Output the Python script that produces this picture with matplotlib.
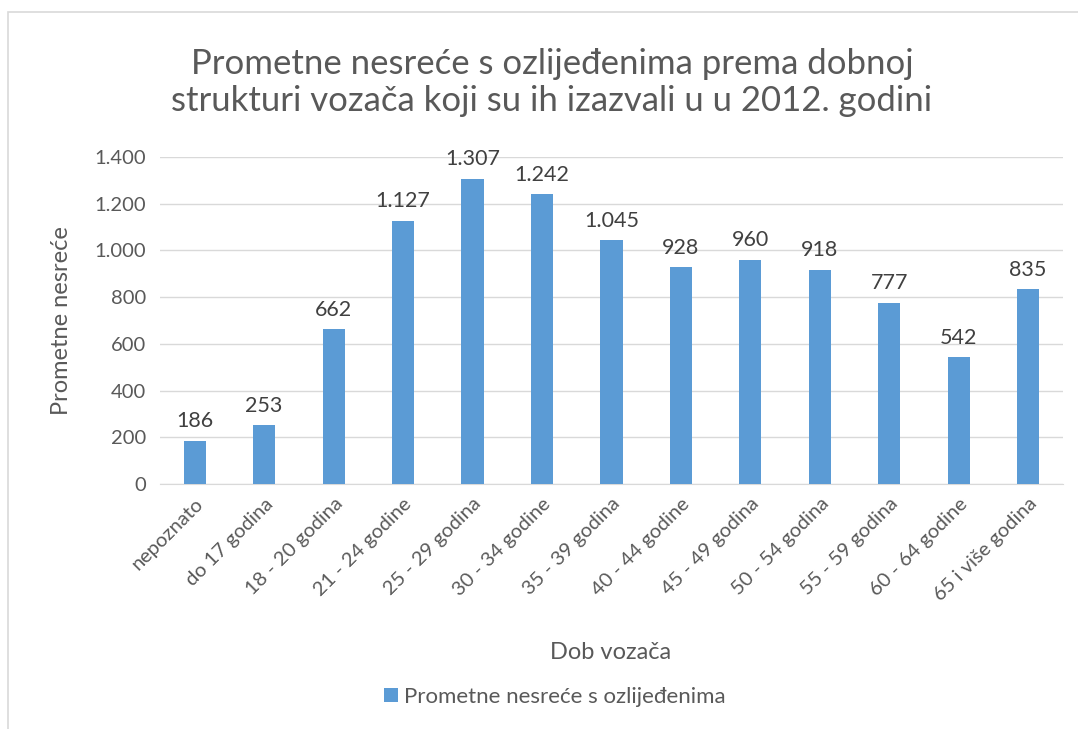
import numpy as np
import matplotlib.pyplot as plt
from matplotlib.patches import Rectangle

categories = ["nepoznato", "do 17 godina", "18 - 20 godina", "21 - 24 godine",
              "25 - 29 godina", "30 - 34 godine", "35 - 39 godina", "40 - 44 godine",
              "45 - 49 godina", "50 - 54 godina", "55 - 59 godina", "60 - 64 godine",
              "65 i više godina"]
values = [186, 253, 662, 1127, 1307, 1242, 1045, 928, 960, 918, 777, 542, 835]
yticks = [0, 200, 400, 600, 800, 1000, 1200, 1400]

plt.rcParams['font.family'] = ['Lato', 'DejaVu Sans']

bar_color = '#5b9bd5'
text_color = '#595959'

def fmt(v):
    return f"{v:,}".replace(",", ".")

fig = plt.figure(figsize=(10.78, 7.29), dpi=100)
fig.patch.set_facecolor('white')
ax = fig.add_axes([0.1484, 0.336, 0.986 - 0.1484, 0.7846 - 0.336])

x = np.arange(len(categories))
ax.bar(x, values, width=0.32, color=bar_color, zorder=3,
       label="Prometne nesreće s ozlijeđenima")

for xi, v in zip(x, values):
    ax.text(xi, v + 40, fmt(v), ha='center', va='bottom', fontsize=15.5, color='#404040')

ax.set_xlim(-0.5, len(categories) - 0.5)
ax.set_ylim(0, 1400)
ax.set_yticks(yticks)
ax.set_yticklabels([fmt(t) for t in yticks], fontsize=14.5, color=text_color)
ax.set_xticks(x)
ax.set_xticklabels(categories, rotation=45, ha='right', rotation_mode='anchor',
                   fontsize=14.5, color=text_color)
ax.tick_params(axis='both', length=0, pad=10)
ax.tick_params(axis='x', pad=8)

ax.grid(axis='y', color='#d9d9d9', linewidth=1, zorder=0)
for s in ['top', 'right', 'left']:
    ax.spines[s].set_visible(False)
ax.spines['bottom'].set_color('#d9d9d9')

ax.set_ylabel("Prometne nesreće", fontsize=17, color=text_color, labelpad=16)
fig.text(0.566, 0.105, "Dob vozača", ha='center', va='center', fontsize=17, color=text_color)

fig.text(0.512, 0.887, "Prometne nesreće s ozlijeđenima prema dobnoj\nstrukturi vozača koji su ih izazvali u u 2012. godini",
         ha='center', va='center', fontsize=25, color=text_color, linespacing=1.2)

leg = fig.legend(loc='center', bbox_to_anchor=(0.515, 0.044), frameon=False,
                 fontsize=16, handlelength=0.6, handleheight=0.6, handletextpad=0.3)
for t in leg.get_texts():
    t.set_color(text_color)

# chart border
fig.patches.append(Rectangle((8 / 1078, -0.01), 1.02, 1 - 12 / 729 + 0.01,
                             transform=fig.transFigure, fill=False,
                             edgecolor='#d9d9d9', linewidth=1.2))

plt.savefig("out.png", dpi=100, facecolor=fig.get_facecolor())
